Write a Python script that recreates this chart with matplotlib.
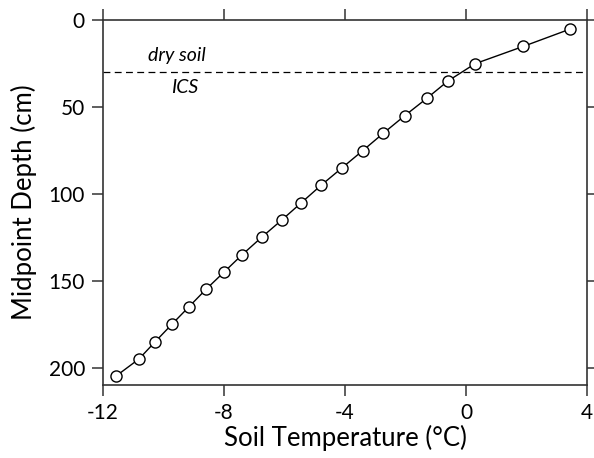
import matplotlib
matplotlib.use('Agg')
import matplotlib.pyplot as plt

plt.rcParams['font.family'] = ['Lato', 'DejaVu Sans']
plt.rcParams['axes.unicode_minus'] = False

# midpoint depth of each soil layer (cm) and measured temperature (deg C)
depth = [5, 15, 25, 35, 45, 55, 65, 75, 85, 95, 105,
         115, 125, 135, 145, 155, 165, 175, 185, 195, 205]
temperature = [3.45, 1.9, 0.3, -0.6, -1.3, -2.03, -2.73, -3.41, -4.1, -4.79, -5.44,
               -6.09, -6.76, -7.4, -8.0, -8.6, -9.16, -9.72, -10.27, -10.81, -11.58]
ics_depth = 30
x_ticks = [-12, -8, -4, 0, 4]
y_ticks = [0, 50, 100, 150, 200]

fig = plt.figure(figsize=(5.94, 4.58), dpi=100)
ax = fig.add_axes([0.1734, 0.1594, 0.8148, 0.7963])

ax.plot(temperature, depth, color='black', lw=1.0, marker='o', markersize=8,
        markerfacecolor='white', markeredgecolor='black', markeredgewidth=1.0, zorder=3)
ax.axhline(ics_depth, color='black', lw=0.9, ls=(0, (5.5, 3.5)))

ax.text(-9.55, 20, 'dry soil', style='italic', fontsize=14, ha='center', va='center')
ax.text(-9.3, 38.5, 'ICS', style='italic', fontsize=14, ha='center', va='center')

ax.set_xlim(-12, 4)
ax.set_ylim(210, 0)
ax.set_xticks(x_ticks)
ax.set_yticks(y_ticks)
ax.tick_params(direction='out', length=8, width=1.1, labelsize=15, color='#333333',
               top=True, right=True, pad=5)
for s in ax.spines.values():
    s.set_color('#333333')
    s.set_linewidth(1.2)

ax.set_xlabel('Soil Temperature (°C)', fontsize=18.5, labelpad=1)
ax.set_ylabel('Midpoint Depth (cm)', fontsize=18.5, labelpad=8)

fig.savefig('out.png', dpi=100)
